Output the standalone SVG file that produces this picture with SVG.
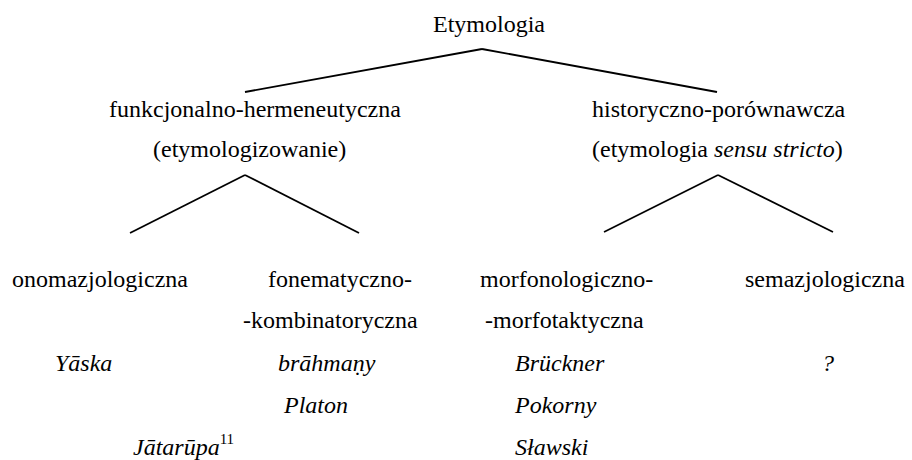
<svg xmlns="http://www.w3.org/2000/svg" width="912" height="460" viewBox="0 0 912 460">
<style>
text { font-family: "Liberation Serif", "Times New Roman", serif; font-size: 24px; fill: #000; }
.i { font-style: italic; }
.sup { font-size: 15px; }
line { stroke: #000; stroke-width: 1.8; stroke-linecap: butt; }
</style>
<rect width="912" height="460" fill="#fff"/>
<g id="connectors">
<line x1="482" y1="49" x2="245" y2="92"/>
<line x1="482" y1="49" x2="717" y2="92"/>
<line x1="245" y1="175" x2="130" y2="233"/>
<line x1="245" y1="175" x2="359" y2="233"/>
<line x1="718" y1="175" x2="604" y2="232"/>
<line x1="718" y1="175" x2="833" y2="232"/>
</g>
<g id="etymologia"><text x="433" y="32">Etymologia</text></g>
<g id="funkcjonalno">
<text x="109" y="117">funkcjonalno-hermeneutyczna</text>
<text x="153" y="157">(etymologizowanie)</text>
</g>
<g id="historyczno">
<text x="592" y="117">historyczno-porównawcza</text>
<text x="592" y="157">(etymologia <tspan class="i">sensu stricto</tspan>)</text>
</g>
<g id="onomazjologiczna">
<text x="12" y="287">onomazjologiczna</text>
<text class="i" x="55" y="371">Yāska</text>
<text class="i" x="133" y="455">Jātarūpa<tspan class="sup" dy="-11" font-style="normal">11</tspan></text>
</g>
<g id="fonematyczno">
<text x="268" y="287">fonematyczno-</text>
<text x="243" y="328">-kombinatoryczna</text>
<text class="i" x="278" y="371">brāhmaṇy</text>
<text class="i" x="284" y="413">Platon</text>
</g>
<g id="morfonologiczno">
<text x="480" y="287">morfonologiczno-</text>
<text x="485" y="328">-morfotaktyczna</text>
<text class="i" x="515" y="371">Brückner</text>
<text class="i" x="515" y="413">Pokorny</text>
<text class="i" x="515" y="455">Sławski</text>
</g>
<g id="semazjologiczna">
<text x="745" y="287">semazjologiczna</text>
<text class="i" x="822" y="371">?</text>
</g>
</svg>
